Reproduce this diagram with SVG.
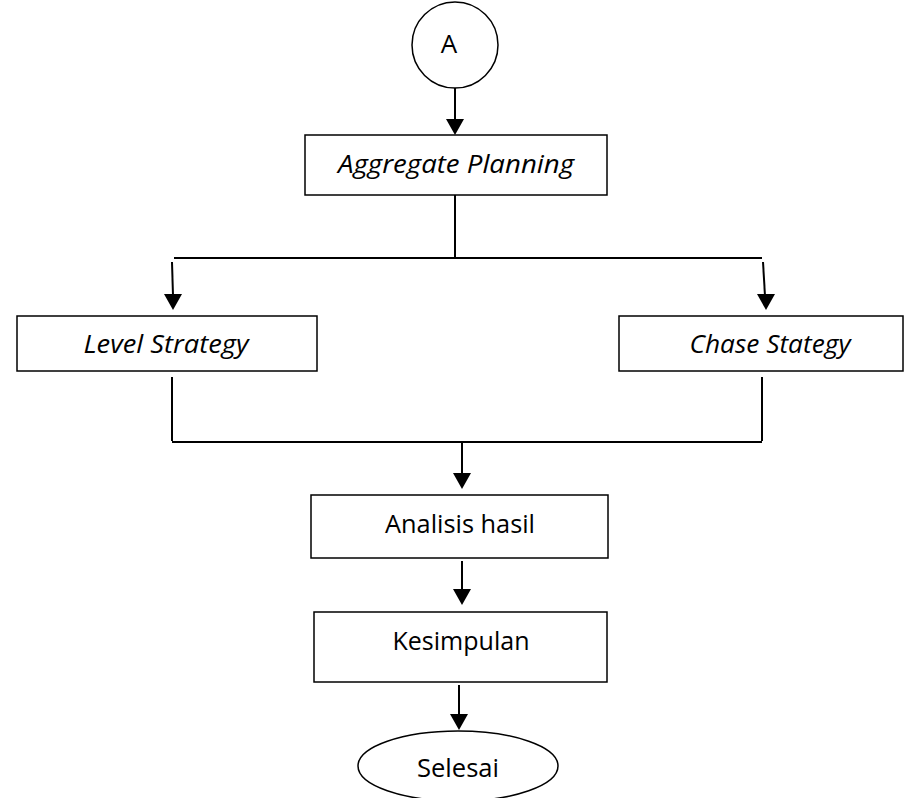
<svg xmlns="http://www.w3.org/2000/svg" width="913" height="798" viewBox="0 0 913 798">
<defs>
<style>
.n{fill:#fff;stroke:#000;stroke-width:1.5}
.t{font-family:"Open Sans","Noto Sans",sans-serif;font-size:26px;fill:#000;text-anchor:middle}
.i{font-style:italic}
.c{fill:none;stroke:#000;stroke-width:2}
</style>
</defs>
<rect width="913" height="798" fill="#fff"/>
<g id="connectors">
<line class="c" x1="455" y1="88" x2="455" y2="121"/>
<path d="M446,119 L464,119 L455,135 z"/>
<line class="c" x1="455" y1="195" x2="455" y2="258"/>
<line class="c" x1="174" y1="258" x2="762" y2="258"/>
<line class="c" x1="172" y1="262" x2="173" y2="296"/>
<path d="M164,294 L182,294 L173,310 z"/>
<line class="c" x1="763" y1="262" x2="765" y2="296"/>
<path d="M757,294 L775,294 L766,310 z"/>
<line class="c" x1="172" y1="377" x2="172" y2="441"/>
<line class="c" x1="762" y1="377" x2="762" y2="441"/>
<line class="c" x1="172" y1="442" x2="762" y2="442"/>
<line class="c" x1="462" y1="443" x2="462" y2="475"/>
<path d="M453,473 L471,473 L462,489 z"/>
<line class="c" x1="462" y1="561" x2="462" y2="591"/>
<path d="M453,589 L471,589 L462,605 z"/>
<line class="c" x1="459" y1="685" x2="459" y2="716"/>
<path d="M450,714 L468,714 L459,730 z"/>
</g>
<g id="start">
<ellipse class="n" cx="455" cy="45" rx="43" ry="43"/>
<text class="t" x="449" y="53">A</text>
</g>
<g id="aggregate">
<rect class="n" x="305" y="135" width="302" height="60"/>
<text class="t i" x="456" y="173" textLength="236" lengthAdjust="spacingAndGlyphs">Aggregate Planning</text>
</g>
<g id="level">
<rect class="n" x="17" y="316" width="300" height="55"/>
<text class="t i" x="166" y="353" textLength="165" lengthAdjust="spacingAndGlyphs">Level Strategy</text>
</g>
<g id="chase">
<rect class="n" x="619" y="316" width="284" height="55"/>
<text class="t i" x="770" y="353" textLength="161" lengthAdjust="spacingAndGlyphs">Chase Stategy</text>
</g>
<g id="analisis">
<rect class="n" x="311" y="495" width="297" height="63"/>
<text class="t" x="460" y="533" textLength="150" lengthAdjust="spacingAndGlyphs">Analisis hasil</text>
</g>
<g id="kesimpulan">
<rect class="n" x="314" y="612" width="293" height="70"/>
<text class="t" x="461" y="650" textLength="137" lengthAdjust="spacingAndGlyphs">Kesimpulan</text>
</g>
<g id="selesai">
<ellipse class="n" cx="458" cy="766" rx="100" ry="35"/>
<text class="t" x="458" y="777" textLength="82" lengthAdjust="spacingAndGlyphs">Selesai</text>
</g>
</svg>
